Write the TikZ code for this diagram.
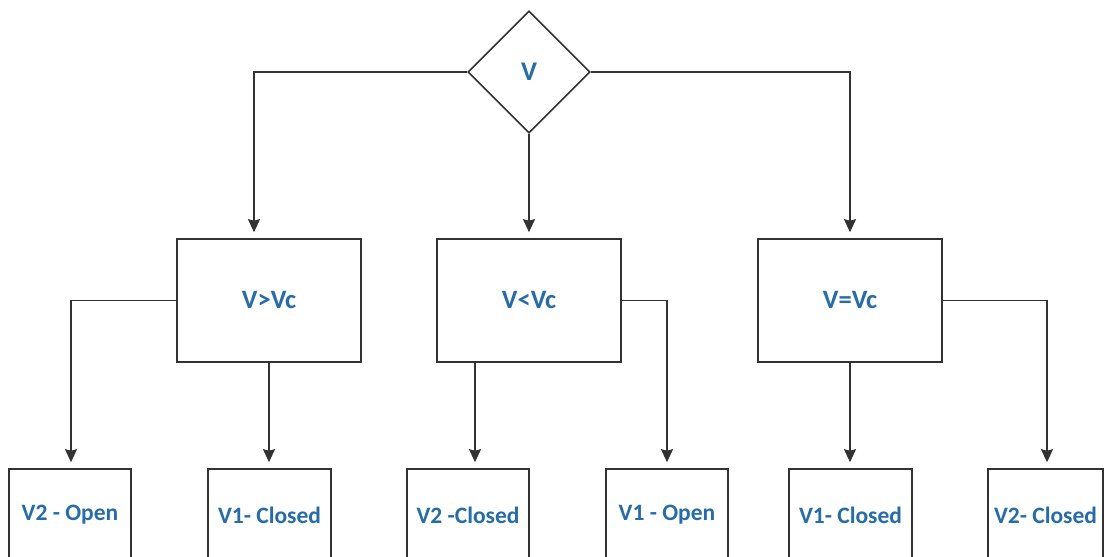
\documentclass[tikz,border=0pt]{standalone}
\usepackage{fontspec}
\setmainfont{Carlito}
\usetikzlibrary{shapes.geometric,arrows.meta,calc}
\definecolor{txtblue}{RGB}{38,108,168}
\definecolor{linegray}{RGB}{50,50,50}
\begin{document}
\begin{tikzpicture}[x=1pt,y=1pt,
  every node/.style={text=txtblue,font=\bfseries},
  decision/.style={diamond,draw=linegray,line width=1.6pt,aspect=1,minimum width=122pt,minimum height=122pt,inner sep=0pt,font=\fontsize{27}{30}\selectfont\bfseries},
  midbox/.style={rectangle,draw=linegray,line width=1.6pt,minimum width=184pt,minimum height=123pt,inner sep=0pt,font=\fontsize{26.5}{30}\selectfont\bfseries},
  leafbox/.style={rectangle,draw=linegray,line width=1.6pt,minimum width=122pt,minimum height=92pt,inner sep=0pt,font=\fontsize{23.5}{28}\selectfont\bfseries},
  arr/.style={draw=linegray,line width=1.6pt,-{Stealth[length=13pt,width=12pt,inset=1.5pt]},shorten >=6pt}]
\useasboundingbox (0,0) rectangle (1109,557);
\fill[white] (0,0) rectangle (1109,557);
% decision
\node[decision] (v) at (529,485) {V};
% middle boxes
\node[midbox] (m1) at (269,256.5) {V>Vc};
\node[midbox] (m2) at (529,256.5) {V<Vc};
\node[midbox] (m3) at (850,256.5) {V=Vc};
% leaves
\node[leafbox] (b1) at (70,42) {V2 - Open};
\node[leafbox,minimum width=123pt] (b2) at (269.5,42) {V1- Closed};
\node[leafbox] (b3) at (468,42) {V2 -Closed};
\node[leafbox] (b4) at (667,42) {V1 - Open};
\node[leafbox,minimum width=123pt] (b5) at (850.5,42) {V1- Closed};
\node[leafbox,minimum width=115pt] (b6) at (1045.5,42) {V2- Closed};
% connectors from decision
\draw[arr] (v.west) -| ([xshift=-15pt]m1.north);
\draw[arr] (v.south) -- (m2.north);
\draw[arr] (v.east) -| (m3.north);
% connectors from middle boxes
\draw[arr] (m1.west) -| ([xshift=1pt]b1.north);
\draw[arr] (m1.south) -- (m1.south |- b2.north);
\draw[arr] ([xshift=-54pt]m2.south) -- ([xshift=-54pt]m2.south |- b3.north);
\draw[arr] (m2.east) -| (b4.north);
\draw[arr] (m3.south) -- (m3.south |- b5.north);
\draw[arr] (m3.east) -| ([xshift=1.5pt]b6.north);
\end{tikzpicture}
\end{document}
